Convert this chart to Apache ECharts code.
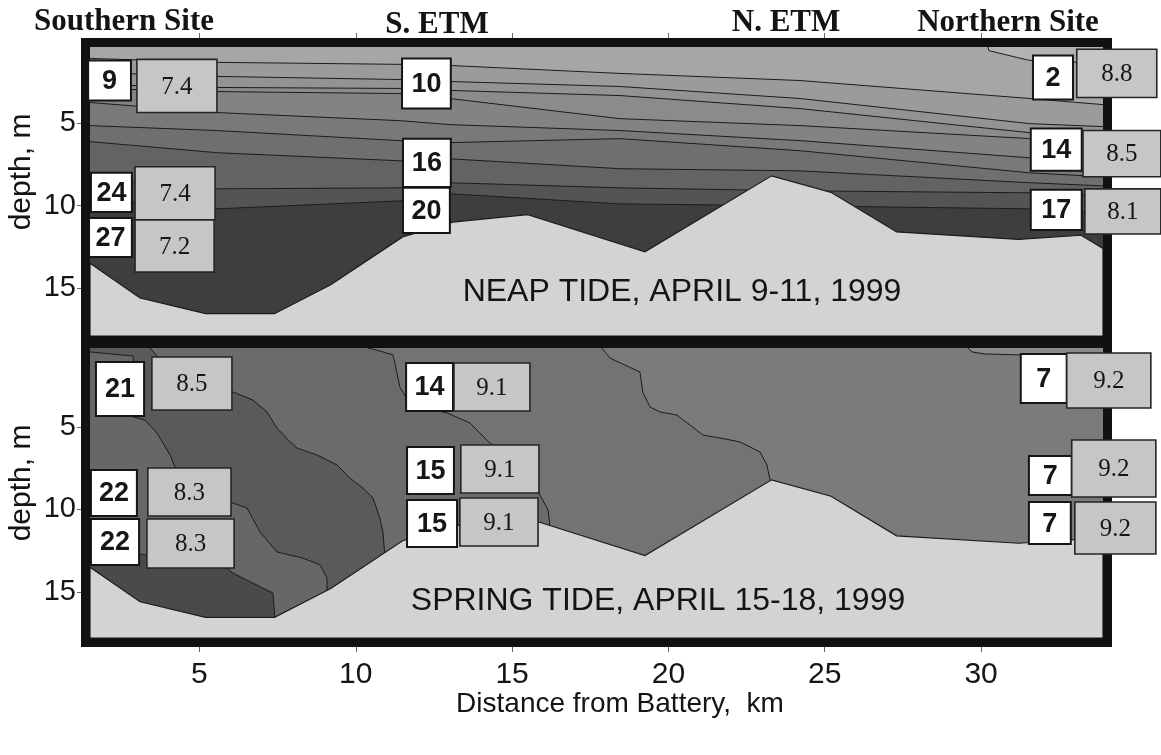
<!DOCTYPE html>
<html>
<head>
<meta charset="utf-8">
<script src="https://cdn.jsdelivr.net/npm/echarts@6/dist/echarts.min.js"></script>
<style>
  html, body { margin: 0; padding: 0; background: #fff; }
  #chart { width: 1161px; height: 755px; }
</style>
</head>
<body>
<div id="chart"></div>
<script>
// ---- axes ----
const kmTicks = [5, 10, 15, 20, 25, 30];
const depthTicks = [5, 10, 15];
const kmRange = [1.5, 33.9];
const neapDepthRange = [0.4, 17.9];
const springDepthRange = [0.2, 17.8];

// ---- channel bottom along the transect (km, m) ----
const seabedKm    = [1.5, 3.1, 5.2, 7.4, 9.2, 11.5, 13.1, 15.5, 19.25, 23.3, 25.2, 27.3, 31.2, 33.2, 33.9];
const seabedDepth = [13.5, 15.6, 16.55, 16.55, 14.8, 11.9, 11.0, 10.55, 12.8, 8.2, 9.2, 11.6, 12.05, 11.8, 12.6];

// ---- neap tide contours: depth of each contour at these distances ----
const neapKm   = [1.5, 5.56, 11.41, 13.01, 18.45, 24.21, 31.56, 33.9];
const neapIso1 = [1.09, 1.33, 1.45, 1.52, 2.00, 2.43, 3.52, 3.89];
const neapIso2 = [1.94, 2.18, 2.37, 2.49, 2.79, 3.52, 5.04, 5.22];
const neapIso3 = [2.67, 2.85, 2.91, 3.03, 3.34, 4.13, 5.59, 5.71];
const neapIso4 = [2.91, 3.10, 3.22, 3.52, 4.74, 5.16, 5.95, 6.07];
const neapIso5 = [3.76, 4.37, 4.86, 5.10, 5.46, 6.07, 7.11, 7.29];
const neapIso6 = [5.16, 5.46, 6.07, 6.19, 5.95, 6.68, 8.02, 8.26];
const neapIso7 = [6.13, 6.80, 7.29, 7.17, 7.77, 7.90, 8.62, 8.81];
const neapIso8 = [8.38, 8.99, 8.93, 8.62, 8.93, 9.11, 9.23, 9.41];
const neapIso9 = [9.60, 10.20, 9.72, 9.29, 9.90, 10.02, 10.20, 10.45];
// near-surface contour at the northern end
const neapCapKm    = [30.22, 30.25, 31.14, 31.56, 33.9];
const neapCapDepth = [0.4, 0.62, 1.03, 1.21, 1.39];

// ---- spring tide contours as [km, depth] pairs ----
const springLine0 = [[1.5, 12.16], [3.42, 12.82], [5.02, 13.19], [5.88, 13.55], [6.07, 13.86], [7.35, 15.07], [7.42, 16.71]];
const springLine1 = [[1.5, 0.44], [2.88, 0.69], [2.94, 2.75], [2.88, 4.39], [3.26, 4.57], [3.64, 5.36], [4.06, 6.69], [4.22, 7.42],
                     [5.02, 8.51], [5.98, 9.55], [6.52, 9.91], [6.94, 11.37], [7.48, 12.58], [8.31, 12.95], [8.86, 13.37], [9.08, 14.16], [9.08, 14.89]];
const springLine2 = [[3.42, 0.2], [3.90, 1.23], [5.02, 2.45], [6.07, 2.87], [6.71, 3.36], [7.16, 4.08], [7.48, 5.06], [7.90, 5.90],
                     [8.12, 6.27], [8.76, 6.69], [9.40, 7.30], [9.81, 8.09], [10.23, 8.70], [10.55, 9.30], [10.77, 10.52], [10.87, 11.37], [10.93, 12.82]];
const springLine3 = [[10.39, 0.2], [10.77, 0.38], [11.19, 0.62], [11.25, 1.11], [11.41, 2.57], [11.67, 3.36], [12.21, 3.84], [12.92, 4.14],
                     [13.65, 4.75], [14.29, 5.97], [15.09, 7.0], [15.73, 8.09], [15.89, 9.12], [16.15, 10.03], [16.21, 11.0]];
const springLine4 = [[17.87, 0.2], [18.13, 0.81], [19.09, 1.66], [19.18, 2.87], [19.41, 3.78], [19.73, 4.08], [20.27, 4.27], [20.69, 4.87],
                     [21.10, 5.48], [21.65, 5.66], [22.29, 5.90], [22.93, 6.51], [23.15, 7.30], [23.28, 8.45]];
const springCap   = [[29.58, 0.2], [29.71, 0.44], [30.12, 0.56], [31.24, 0.62], [33.9, 0.69]];

// ---- station annotations ----
const neapCounts     = ['9', '24', '27', '10', '16', '20', '2', '14', '17'];
const neapReadings   = ['7.4', '7.4', '7.2', '8.8', '8.5', '8.1'];
const springCounts   = ['21', '22', '22', '14', '15', '15', '7', '7', '7'];
const springReadings = ['8.5', '8.3', '8.3', '9.1', '9.1', '9.1', '9.2', '9.2', '9.2'];

// annotation box extents: [km from, km to, depth from, depth to]
const neapCountBoxes = [[1.44, 2.81, 1.21, 3.64], [1.53, 2.84, 8.02, 10.39], [1.47, 2.84, 10.75, 13.12],
  [11.48, 13.04, 1.09, 4.13], [11.51, 13.04, 5.95, 8.87], [11.51, 13.01, 8.93, 11.66],
  [31.66, 32.94, 0.91, 3.58], [31.59, 33.22, 5.34, 7.90], [31.59, 33.22, 9.05, 11.48]];
const neapReadingBoxes = [[3.0, 5.56, 1.15, 4.37], [2.94, 5.50, 7.65, 10.87], [2.94, 5.47, 10.87, 14.03],
  [33.06, 35.62, 0.54, 3.46], [33.26, 35.75, 5.46, 8.26], [33.32, 35.75, 8.99, 11.72]];
const springCountBoxes = [[1.69, 3.23, 1.05, 4.33], [1.53, 3.0, 7.60, 10.40], [1.53, 3.07, 10.58, 13.37],
  [11.61, 13.11, 1.11, 4.02], [11.64, 13.14, 6.21, 9.06], [11.64, 13.24, 9.42, 12.28],
  [31.27, 32.74, 0.56, 3.54], [31.53, 32.90, 6.75, 9.12], [31.53, 32.87, 9.55, 12.10]];
const springReadingBoxes = [[3.48, 6.04, 0.75, 3.96], [3.35, 6.01, 7.48, 10.40], [3.32, 6.11, 10.58, 13.55],
  [13.14, 15.57, 1.11, 4.02], [13.36, 15.86, 6.09, 9.0], [13.33, 15.83, 9.30, 12.22],
  [32.74, 35.43, 0.50, 3.84], [32.90, 35.59, 5.78, 9.24], [33.0, 35.59, 9.55, 12.70]];

// ---- layout ----
const PANEL = { left: 90, width: 1013 };
const TOP = { top: 47, height: 289 };
const BOT = { top: 348, height: 290 };
const SANS = '"Liberation Sans", Arial, Helvetica, sans-serif';
const SERIF = '"Liberation Serif", "Times New Roman", serif';

const zip = (xs, ys) => xs.map((x, i) => [x, ys[i]]);

// polygon helpers
function belowPoly(pts, dMax) {
  const first = pts[0], last = pts[pts.length - 1];
  return [[kmRange[0], first[1]], ...pts, [kmRange[1], last[1]], [kmRange[1], dMax], [kmRange[0], dMax]];
}
function leftPoly(pts, dMin, dMax) {
  const first = pts[0], last = pts[pts.length - 1];
  return [...pts, [last[0], dMax], [kmRange[0], dMax], [kmRange[0], dMin], [first[0], dMin]];
}
function abovePoly(pts, dMin) {
  const first = pts[0];
  return [...pts, [kmRange[1], dMin], [first[0], dMin]];
}
function rectPoly(dMin, dMax) {
  return [[kmRange[0], dMin], [kmRange[1], dMin], [kmRange[1], dMax], [kmRange[0], dMax]];
}

const neapIsos = [neapIso1, neapIso2, neapIso3, neapIso4, neapIso5, neapIso6, neapIso7, neapIso8, neapIso9];
const neapShades = ['#9b9b9b', '#939393', '#8b8b8b', '#838383', '#797979', '#6f6f6f', '#636363', '#545454', '#3e3e3e'];
const neapFills = [
  { pts: rectPoly(neapDepthRange[0], neapDepthRange[1]), color: '#a6a6a6' },
  { pts: abovePoly(zip(neapCapKm, neapCapDepth), neapDepthRange[0]), color: '#b3b3b3' }
].concat(neapIsos.map((d, i) => ({ pts: belowPoly(zip(neapKm, d), neapDepthRange[1]), color: neapShades[i] })));

const springFills = [
  { pts: rectPoly(springDepthRange[0], springDepthRange[1]), color: '#7b7b7b' },
  { pts: abovePoly(springCap, springDepthRange[0]), color: '#8a8a8a' },
  { pts: leftPoly(springLine4, springDepthRange[0], springDepthRange[1]), color: '#737373' },
  { pts: leftPoly(springLine3, springDepthRange[0], springDepthRange[1]), color: '#6b6b6b' },
  { pts: leftPoly(springLine2, springDepthRange[0], springDepthRange[1]), color: '#5a5a5a' },
  { pts: leftPoly(springLine1, springDepthRange[0], springDepthRange[1]), color: '#676767' },
  { pts: leftPoly(springLine0, springDepthRange[0], springDepthRange[1]), color: '#4a4a4a' }
];

function fillSeries(fills, axisIndex) {
  return {
    type: 'custom', xAxisIndex: axisIndex, yAxisIndex: axisIndex, z: 1, clip: true, silent: true,
    data: fills.map(f => f.pts[0]),
    renderItem: (params, api) => {
      const f = fills[params.dataIndex];
      return {
        type: 'polygon', z2: params.dataIndex,
        shape: { points: f.pts.map(p => api.coord(p)) },
        style: { fill: f.color, stroke: null }
      };
    }
  };
}

function contourSeries(pts, axisIndex) {
  return {
    type: 'line', xAxisIndex: axisIndex, yAxisIndex: axisIndex, z: 3, silent: true,
    data: pts, showSymbol: false, symbol: 'none', smooth: false,
    lineStyle: { color: '#1c1c1c', width: 1 }
  };
}

function seabedSeries(axisIndex, dMax) {
  const pts = zip(seabedKm, seabedDepth).concat([[kmRange[1], dMax], [kmRange[0], dMax]]);
  return {
    type: 'custom', xAxisIndex: axisIndex, yAxisIndex: axisIndex, z: 4, clip: true, silent: true,
    data: [pts[0]],
    renderItem: (params, api) => ({
      type: 'polygon',
      shape: { points: pts.map(p => api.coord(p)) },
      style: { fill: '#d3d3d3', stroke: '#1c1c1c', lineWidth: 1.2 }
    })
  };
}

function boxSeries(boxes, texts, axisIndex, kind) {
  const isCount = kind === 'count';
  return {
    type: 'custom', xAxisIndex: axisIndex, yAxisIndex: axisIndex, z: 100, clip: false, silent: true,
    data: boxes.map(b => [b[0], b[2]]),
    renderItem: (params, api) => {
      const b = boxes[params.dataIndex];
      const p0 = api.coord([b[0], b[2]]);
      const p1 = api.coord([b[1], b[3]]);
      const cx = (p0[0] + p1[0]) / 2, cy = (p0[1] + p1[1]) / 2;
      return {
        type: 'group',
        children: [
          {
            type: 'rect',
            shape: { x: p0[0], y: p0[1], width: p1[0] - p0[0], height: p1[1] - p0[1] },
            style: isCount
              ? { fill: '#ffffff', stroke: '#151515', lineWidth: 2 }
              : { fill: '#c6c6c6', stroke: '#252525', lineWidth: 1.6 }
          },
          {
            type: 'text', x: cx, y: cy + 1,
            style: {
              text: texts[params.dataIndex],
              font: isCount ? 'bold 27px ' + SANS : '25px ' + SERIF,
              fill: '#161616',
              align: 'center', verticalAlign: 'middle',
              textAlign: 'center', textVerticalAlign: 'middle'
            }
          }
        ]
      };
    }
  };
}

function frame(p) {
  return {
    type: 'rect', z: 50, silent: true,
    shape: { x: PANEL.left - 4.5, y: p.top - 4.5, width: PANEL.width + 9, height: p.height + 9 },
    style: { fill: 'none', stroke: '#111111', lineWidth: 9 }
  };
}

function label(text, x, y, font, rotation) {
  return {
    type: 'text', x, y, rotation: rotation || 0, z: 60, silent: true,
    style: { text, font, fill: '#141414', align: 'center', verticalAlign: 'middle',
             textAlign: 'center', textVerticalAlign: 'middle' }
  };
}

function xAxisOpt(gridIndex, position, withLabels) {
  return {
    gridIndex, type: 'value', min: kmRange[0], max: kmRange[1], position,
    axisLine: { show: false }, splitLine: { show: false },
    axisTick: { show: true, customValues: kmTicks, length: 14, lineStyle: { color: '#666', width: 1 } },
    axisLabel: withLabels
      ? { show: true, customValues: kmTicks, fontSize: 30, fontFamily: SANS, color: '#151515', margin: 22 }
      : { show: false }
  };
}
function yAxisOpt(gridIndex, range) {
  return {
    gridIndex, type: 'value', inverse: true, min: range[0], max: range[1],
    axisLine: { show: false }, splitLine: { show: false },
    axisTick: { show: true, customValues: depthTicks, length: 13, lineStyle: { color: '#666', width: 1 } },
    axisLabel: { show: true, customValues: depthTicks, fontSize: 29, fontFamily: SANS, color: '#151515', margin: 14 }
  };
}

const allNeapLines = neapIsos.map(d => zip(neapKm, d)).concat([zip(neapCapKm, neapCapDepth)]);
const allSpringLines = [springLine0, springLine1, springLine2, springLine3, springLine4, springCap];

const option = {
  animation: false,
  backgroundColor: '#ffffff',
  grid: [
    { left: PANEL.left, width: PANEL.width, top: TOP.top, height: TOP.height },
    { left: PANEL.left, width: PANEL.width, top: BOT.top, height: BOT.height }
  ],
  xAxis: [xAxisOpt(0, 'top', false), xAxisOpt(1, 'bottom', true)],
  yAxis: [yAxisOpt(0, neapDepthRange), yAxisOpt(1, springDepthRange)],
  graphic: [
    frame(TOP), frame(BOT),
    label('Southern Site', 124, 22, 'bold 31px ' + SERIF),
    label('S. ETM', 437, 25, 'bold 31px ' + SERIF),
    label('N. ETM', 786, 23, 'bold 31px ' + SERIF),
    label('Northern Site', 1008, 23, 'bold 31px ' + SERIF),
    label('NEAP TIDE, APRIL 9-11, 1999', 682, 292, '32px ' + SANS),
    label('SPRING TIDE, APRIL 15-18, 1999', 658, 601, '32px ' + SANS),
    label('depth, m', 22, 172, '30px ' + SANS, Math.PI / 2),
    label('depth, m', 22, 483, '30px ' + SANS, Math.PI / 2),
    label('Distance from Battery,  km', 620, 704, '28px ' + SANS)
  ],
  series: [
    fillSeries(neapFills, 0),
    fillSeries(springFills, 1),
    ...allNeapLines.map(l => contourSeries(l, 0)),
    ...allSpringLines.map(l => contourSeries(l, 1)),
    seabedSeries(0, neapDepthRange[1]),
    seabedSeries(1, springDepthRange[1]),
    boxSeries(neapCountBoxes, neapCounts, 0, 'count'),
    boxSeries(neapReadingBoxes, neapReadings, 0, 'reading'),
    boxSeries(springCountBoxes, springCounts, 1, 'count'),
    boxSeries(springReadingBoxes, springReadings, 1, 'reading')
  ]
};

const chart = echarts.init(document.getElementById('chart'), null, { renderer: 'canvas' });
chart.setOption(option);
</script>
</body>
</html>
